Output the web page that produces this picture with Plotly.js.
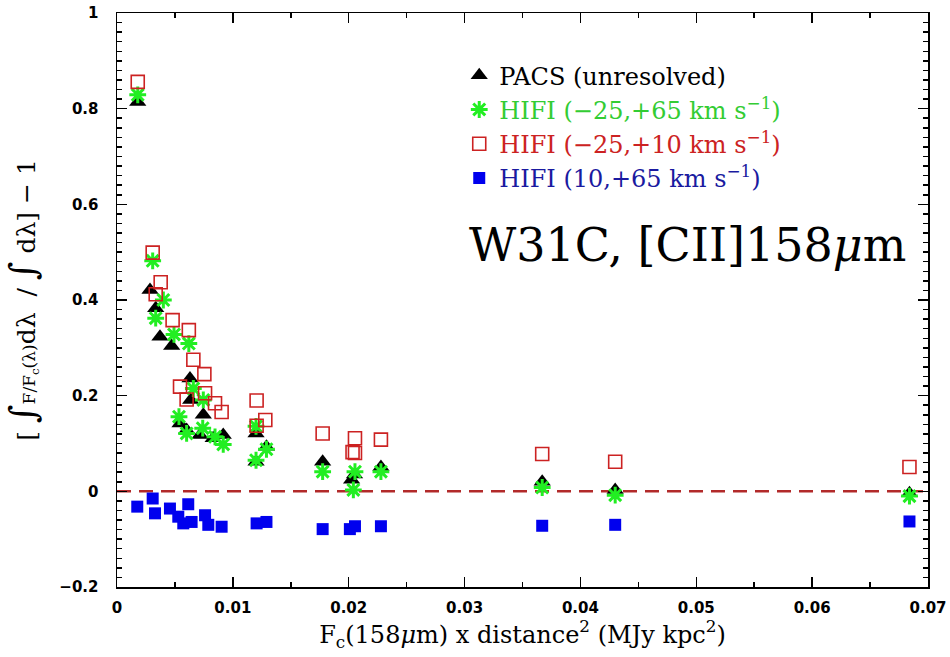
<!DOCTYPE html>
<html>
<head>
<meta charset="utf-8">
<script src="https://cdn.plot.ly/plotly-3.0.1.min.js"></script>
<style>html,body{margin:0;padding:0;background:#fff;}#chart{width:950px;height:657px;}</style>
</head>
<body>
<div id="chart"></div>
<script>
// PACS (unresolved)
const pacsX = [0.00179, 0.00285, 0.00334, 0.00371, 0.00472, 0.0063, 0.00636, 0.00745, 0.00544, 0.00601, 0.00716, 0.0083, 0.00917, 0.0120, 0.0129, 0.0120, 0.01775, 0.02025, 0.0205, 0.02278, 0.0367, 0.0430, 0.0684];
const pacsY = [0.814, 0.421, 0.383, 0.323, 0.304, 0.236, 0.191, 0.160, 0.142, 0.128, 0.118, 0.111, 0.118, 0.121, 0.093, 0.062, 0.062, 0.024, 0.035, 0.051, 0.020, 0.003, -0.004];
// HIFI (-25,+65 km/s)
const hifiTotX = [0.00179, 0.00308, 0.0040, 0.00334, 0.00492, 0.0062, 0.00659, 0.00745, 0.00535, 0.00601, 0.0074, 0.00846, 0.00917, 0.0120, 0.0129, 0.0120, 0.01775, 0.02054, 0.0204, 0.02278, 0.0367, 0.0430, 0.0684];
const hifiTotY = [0.829, 0.482, 0.400, 0.362, 0.328, 0.309, 0.215, 0.191, 0.156, 0.121, 0.132, 0.114, 0.098, 0.136, 0.088, 0.065, 0.041, 0.041, 0.003, 0.041, 0.008, -0.008, -0.010];
// HIFI (-25,+10 km/s)
const hifiNegX = [0.00179, 0.00308, 0.00377, 0.00334, 0.0048, 0.0062, 0.00659, 0.00754, 0.00544, 0.0076, 0.00601, 0.00846, 0.00903, 0.01205, 0.0128, 0.01205, 0.01775, 0.02054, 0.02033, 0.02054, 0.02278, 0.0367, 0.0430, 0.0684];
const hifiNegY = [0.856, 0.499, 0.437, 0.412, 0.358, 0.337, 0.275, 0.245, 0.219, 0.205, 0.192, 0.184, 0.166, 0.190, 0.149, 0.137, 0.121, 0.111, 0.082, 0.080, 0.108, 0.078, 0.062, 0.051];
// HIFI (10,+65 km/s)
const hifiPosX = [0.00175, 0.00308, 0.00328, 0.00457, 0.00615, 0.00529, 0.00572, 0.0076, 0.00644, 0.00788, 0.00903, 0.01205, 0.0129, 0.01775, 0.0201, 0.02054, 0.02278, 0.0367, 0.0430, 0.0684];
const hifiPosY = [-0.032, -0.015, -0.046, -0.036, -0.027, -0.053, -0.067, -0.050, -0.064, -0.070, -0.074, -0.067, -0.064, -0.079, -0.079, -0.073, -0.073, -0.072, -0.070, -0.063];

const xRange = [0, 0.07];
const yRange = [-0.2, 1];
const refLine = 0;

const traces = [
  {x: pacsX, y: pacsY, type: 'scatter', mode: 'markers',
   name: '<span style="color:#000000">PACS (unresolved)</span>',
   marker: {symbol: 'triangle-up', size: 15, color: '#000000'}},
  {x: hifiTotX, y: hifiTotY, type: 'scatter', mode: 'markers',
   name: '<span style="color:#33cc33">HIFI (−25,+65 km s<sup>−1</sup>)</span>',
   marker: {symbol: 'asterisk-open', size: 14, color: '#22ee22', line: {color: '#22ee22', width: 3}}},
  {x: hifiNegX, y: hifiNegY, type: 'scatter', mode: 'markers',
   name: '<span style="color:#cc2222">HIFI (−25,+10 km s<sup>−1</sup>)</span>',
   marker: {symbol: 'square-open', size: 13, color: '#cc2222', line: {color: '#cc2222', width: 1.6}}},
  {x: hifiPosX, y: hifiPosY, type: 'scatter', mode: 'markers',
   name: '<span style="color:#1a1aa0">HIFI (10,+65 km s<sup>−1</sup>)</span>',
   marker: {symbol: 'square', size: 12, color: '#0000ee'}}
];

const axisCommon = {
  showgrid: false, zeroline: false, showline: true, linecolor: '#000', linewidth: 1.5,
  mirror: 'allticks', ticks: 'inside', ticklen: 10, tickwidth: 1.5, tickcolor: '#000',
  tickfont: {family: 'DejaVu Sans', size: 15, color: '#000', weight: 'bold'}
};

const layout = {
  width: 950, height: 657,
  margin: {l: 117, r: 22, t: 13, b: 70},
  paper_bgcolor: '#fff', plot_bgcolor: '#fff',
  showlegend: true,
  legend: {x: 0.422, y: 0.93, xanchor: 'left', yanchor: 'top', bgcolor: 'rgba(0,0,0,0)',
           font: {family: 'DejaVu Serif', size: 24, color: '#000'}, tracegroupgap: 0, itemwidth: 30},
  xaxis: Object.assign({}, axisCommon, {
    range: xRange, dtick: 0.01, tick0: 0, ticklabelstandoff: 6,
    minor: {dtick: 0.005, ticks: 'inside', ticklen: 5, tickwidth: 1.5, tickcolor: '#000'},
    title: {text: 'F<sub>c</sub>(158<i>μ</i>m) x distance<sup>2</sup> (MJy kpc<sup>2</sup>)',
            font: {family: 'DejaVu Serif', size: 24, color: '#000'}, standoff: 6}
  }),
  yaxis: Object.assign({}, axisCommon, {
    range: yRange, dtick: 0.2, tick0: 0, ticklabelstandoff: 14,
    minor: {dtick: 0.02, ticks: 'inside', ticklen: 5, tickwidth: 1.5, tickcolor: '#000'},
    title: {text: '[ <span style="font-size:36px">∫</span><span style="font-size:17px">F/F<sub>c</sub>(λ)</span>dλ  / <span style="font-size:36px">∫</span> dλ] − 1',
            font: {family: 'DejaVu Serif', size: 25, color: '#000'}, standoff: 16}
  }),
  shapes: [{type: 'line', xref: 'paper', x0: 0, x1: 1, yref: 'y', y0: refLine, y1: refLine,
            line: {color: '#b22a2a', width: 2.5, dash: '14px,8px'}, layer: 'below'}],
  annotations: [{xref: 'paper', yref: 'paper', x: 0.975, y: 0.596, xanchor: 'right', yanchor: 'middle',
                 text: 'W31C, [CII]158<i>μ</i>m', showarrow: false,
                 font: {family: 'DejaVu Serif', size: 46, color: '#000'}}]
};

Plotly.newPlot('chart', traces, layout, {displayModeBar: false, staticPlot: true});
</script>
</body>
</html>
